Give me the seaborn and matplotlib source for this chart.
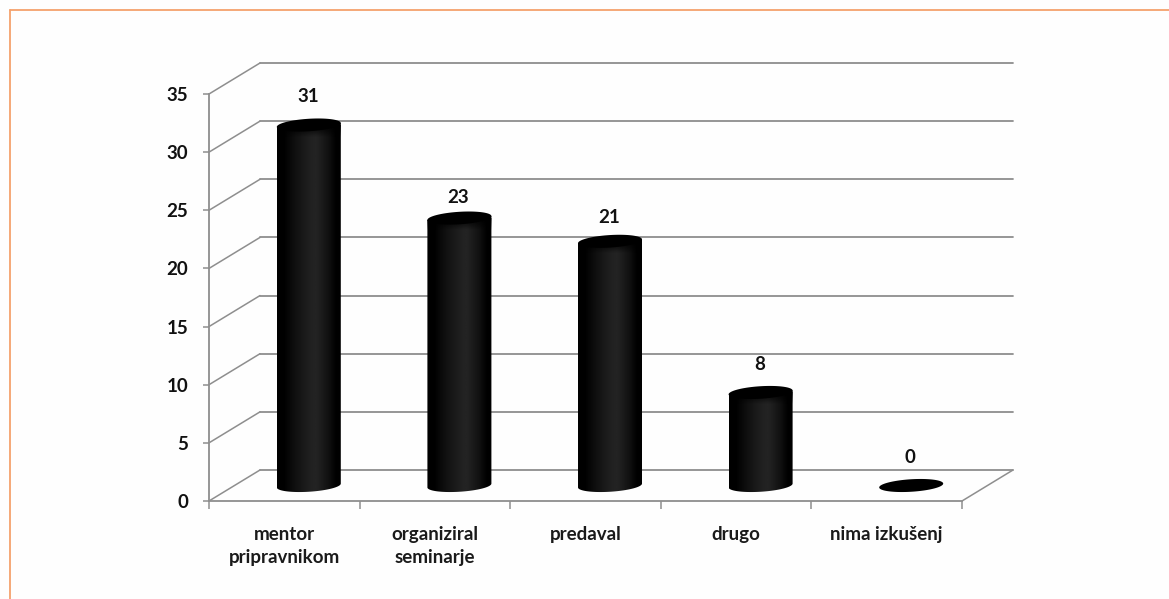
import numpy as np
import pandas as pd
import matplotlib
matplotlib.use("Agg")
import matplotlib.pyplot as plt
from matplotlib.lines import Line2D
from matplotlib.patches import Polygon
import seaborn as sns

categories = ["mentor\npripravnikom", "organiziral\nseminarje", "predaval", "drugo", "nima izkušenj"]
values = [31, 23, 21, 8, 0]
y_ticks = [0, 5, 10, 15, 20, 25, 30, 35]

W, H = 1169, 599
PX_X = 753 / 5          # px per category
PX_Y = 407 / 35         # px per value unit
DX = 51 / PX_X          # depth offset, data units
DY = 31 / PX_Y
GRID = "#8e8e8e"
FONT = "Lato"
label_rise_px = [29, 21, 24, 28, 28]

sns.set_theme(style="white")
plt.rcParams["font.family"] = [FONT, "DejaVu Sans"]

fig = plt.figure(figsize=(W / 100, H / 100), dpi=100, facecolor="#fefefe")
ax = fig.add_axes([209 / W, 1 - 501 / H, 753 / W, 407 / H])
ax.patch.set_alpha(0)

df = pd.DataFrame({"cat": categories, "val": values})
sns.barplot(data=df, x="cat", y="val", color="black", width=64 / PX_X, ax=ax, zorder=3)
ax.set_xlim(-0.5, 4.5)
ax.set_ylim(0, 35)
ax.set_xlabel("")
ax.set_ylabel("")

# walls
for v in y_ticks:
    ax.plot([-0.5, -0.5 + DX], [v, v + DY], color=GRID, lw=1.1, clip_on=False, zorder=1)
    ax.plot([-0.5 + DX, 4.5 + DX], [v + DY, v + DY], color=GRID, lw=1.3, clip_on=False, zorder=1)
ax.plot([4.5, 4.5 + DX], [0, DY], color=GRID, lw=1.1, clip_on=False, zorder=1)

# axes
for s in ("top", "right"):
    ax.spines[s].set_visible(False)
for s in ("left", "bottom"):
    ax.spines[s].set_color(GRID)
    ax.spines[s].set_linewidth(1.3)
ax.set_yticks(y_ticks)
ax.set_yticklabels([str(v) for v in y_ticks], fontsize=13.5, fontweight="bold", color="#111111")
ax.tick_params(axis="y", left=True, length=4, width=1.1, color=GRID, pad=11)
ax.set_xticks(np.arange(-0.5, 5, 1))
ax.set_xticklabels([])
ax.tick_params(axis="x", bottom=True, length=5.5, width=1.1, color=GRID)
ax.set_xticks(range(5), minor=True)
ax.set_xticklabels(categories, minor=True, fontsize=13.5, fontweight="bold", color="#1a1a1a",
                   linespacing=1.4, va="top")
ax.tick_params(axis="x", which="minor", bottom=False, pad=14)

# cylinders
H_CAP = 12.5 / PX_Y
SHEAR = 0.06 * (PX_X / PX_Y)   # tilt of the ellipses
SHADOW = 12 / PX_Y
grad_pos = np.array([0, 0.10, 0.30, 0.55, 0.62, 0.80, 0.93, 1.0])
grad_val = np.array([0, 0.0, 0.07, 0.135, 0.14, 0.07, 0.0, 0.0])
gx = np.linspace(0, 1, 256)
grad = np.interp(gx, grad_pos, grad_val)[None, :]
shade = np.zeros((64, 1, 4))
shade[:, 0, 3] = np.linspace(1, 0, 64)

for i, patch in enumerate(list(ax.patches)):
    patch.set_visible(False)
    w = patch.get_width()
    cx = patch.get_x() + w / 2 + DX / 2 - 1 / PX_X
    top = patch.get_height() + DY / 2
    base = DY / 2
    t = np.linspace(0, 2 * np.pi, 181)
    ex = w / 2 * np.cos(t)
    ey = H_CAP / 2 * np.sin(t) + SHEAR * ex
    if values[i] > 0:
        lower = t > np.pi
        order = np.argsort(ex[lower])
        bx = ex[lower][order]
        by = ey[lower][order] + base
        poly = np.vstack([np.c_[cx + bx, by],
                          [[cx + w / 2, top + SHEAR * w / 2], [cx - w / 2, top - SHEAR * w / 2]]])
        body = Polygon(poly, closed=True, facecolor="none", edgecolor="none",
                       transform=ax.transData)
        ax.add_patch(body)
        im = ax.imshow(grad, extent=(cx - w / 2, cx + w / 2, 0, top + H_CAP), aspect="auto",
                       cmap="gray", vmin=0, vmax=1, zorder=3, interpolation="bilinear")
        im.set_clip_path(body)
        sh = ax.imshow(shade, extent=(cx - w / 2, cx + w / 2, top - SHADOW, top), aspect="auto",
                       zorder=3.5, interpolation="bilinear")
        sh.set_clip_path(body)
    ax.fill(cx + ex, top + ey, color="black", zorder=4, lw=0, clip_on=False)
    ax.annotate(str(values[i]), (cx, top), xytext=(-1 * 0.72, label_rise_px[i] * 0.72),
                textcoords="offset points",
                ha="center", va="center", fontsize=13.5, fontweight="bold", color="#111111",
                annotation_clip=False, zorder=5)

ax.set_xlim(-0.5, 4.5)
ax.set_ylim(0, 35)

# orange frame of the page
frame = "#f5a26c"
fig.add_artist(Line2D([9.8 / W, 1], [1 - 10 / H, 1 - 10 / H], color=frame, lw=1.3, transform=fig.transFigure))
fig.add_artist(Line2D([9.8 / W, 9.8 / W], [1 - 10 / H, 0], color=frame, lw=1.3, transform=fig.transFigure))

fig.savefig("out.png", dpi=100, facecolor=fig.get_facecolor())
